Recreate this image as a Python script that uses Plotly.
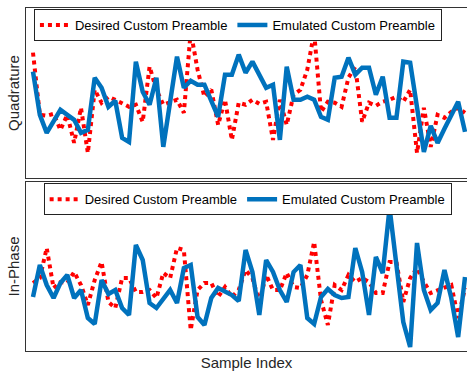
import plotly.graph_objects as go
from plotly.subplots import make_subplots

sample_index = list(range(1, 65))

quad_desired = [0.40, -0.22, -0.23, -0.21, -0.37, -0.22, -0.50, -0.15, -0.60, 0.03,
                -0.10, -0.04, -0.07, -0.10, -0.14, -0.12, -0.29, 0.26, 0.03, -0.12,
                -0.10, -0.07, -0.20, 0.61, 0.23, -0.04, 0.03, -0.32, -0.07, -0.47,
                -0.10, -0.12, -0.07, -0.11, -0.09, -0.47, -0.07, -0.32, -0.02, 0.03,
                0.23, 0.60, -0.19, -0.09, -0.10, -0.14, 0.15, 0.26, -0.29, -0.10,
                -0.13, -0.09, -0.07, -0.04, -0.09, 0.03, -0.60, -0.15, -0.54, -0.22,
                -0.25, -0.19, -0.15, -0.20]
quad_emulated = [0.21, -0.22, -0.40, -0.29, -0.17, -0.22, -0.27, -0.40, -0.37, 0.15,
                 0.05, -0.14, -0.08, -0.45, -0.49, 0.31, 0.01, -0.12, 0.15, -0.54,
                 -0.08, 0.36, 0.05, 0.12, 0.08, 0.08, -0.08, -0.24, 0.18, 0.18,
                 0.38, 0.20, 0.31, 0.18, 0.05, 0.08, -0.47, 0.26, -0.07, -0.07,
                 -0.04, -0.07, -0.24, -0.27, 0.15, 0.16, 0.35, 0.18, 0.25, 0.25,
                 -0.02, 0.16, -0.25, -0.25, 0.31, 0.30, -0.17, -0.59, -0.33, -0.50,
                 -0.36, -0.22, -0.09, -0.39]
inph_desired = [-0.17, -0.12, 0.18, -0.22, -0.16, -0.17, -0.06, -0.19, -0.39, -0.14,
                0.04, -0.36, -0.42, -0.12, -0.12, -0.26, -0.26, -0.24, -0.32, -0.07,
                -0.12, 0.18, 0.16, -0.64, -0.24, -0.17, -0.17, -0.31, -0.21, -0.31,
                -0.24, -0.04, -0.12, -0.36, -0.09, -0.24, -0.24, -0.07, -0.21, -0.22,
                -0.09, 0.24, -0.34, -0.59, -0.19, -0.24, -0.09, -0.16, -0.12, -0.16,
                -0.27, -0.27, 0.04, 0.04, -0.36, -0.12, -0.02, -0.16, -0.27, -0.24,
                -0.21, -0.19, -0.52, -0.22]
inph_emulated = [-0.31, 0.01, -0.19, -0.32, -0.17, -0.09, -0.32, -0.24, -0.52, -0.58,
                 -0.14, -0.28, -0.24, -0.42, -0.49, 0.21, 0.06, -0.37, -0.42, -0.32,
                 -0.24, -0.37, -0.02, 0.01, -0.51, -0.59, -0.32, -0.22, -0.26, -0.29,
                 -0.35, 0.16, -0.06, -0.49, 0.06, -0.06, -0.24, -0.36, -0.06, 0.01,
                 -0.52, -0.58, -0.31, -0.23, -0.29, -0.32, -0.31, 0.18, -0.06, -0.49,
                 0.09, -0.07, 0.58, 0.01, -0.56, -0.81, 0.23, -0.24, -0.44, -0.37,
                 -0.04, -0.32, -0.71, -0.11]

names = ["Desired Custom Preamble", "Emulated Custom Preamble"]
RED = "#ff0000"
BLUE = "#0072bd"
TXT = "#262626"
FONT = "Liberation Sans, Arial, sans-serif"

fig = make_subplots(rows=2, cols=1, vertical_spacing=0.0)

for row, (des, emu, lg) in enumerate([(quad_desired, quad_emulated, "legend"),
                                      (inph_desired, inph_emulated, "legend2")], start=1):
    fig.add_trace(go.Scatter(x=sample_index, y=des, mode="lines", name=names[0],
                             line=dict(color=RED, width=4, dash="4px,4px"),
                             legend=lg), row=row, col=1)
    fig.add_trace(go.Scatter(x=sample_index, y=emu, mode="lines", name=names[1],
                             line=dict(color=BLUE, width=4.5),
                             legend=lg), row=row, col=1)

axis_common = dict(showgrid=False, zeroline=False, ticks="", showticklabels=False,
                   showline=True, linecolor="#333", linewidth=1, automargin=False)
xr = [-0.02, 64.29]
fig.update_xaxes(range=xr, mirror=True, **axis_common)
fig.update_yaxes(mirror=False, **axis_common)

legend_common = dict(orientation="h", xanchor="left", yanchor="top",
                     bgcolor="white", bordercolor="#222", borderwidth=1,
                     font=dict(size=13, family=FONT, color="#000"),
                     itemwidth=30, tracegroupgap=0, itemclick=False)

fig.update_layout(
    width=467, height=372,
    margin=dict(l=26, r=0, t=8, b=21, autoexpand=False),
    paper_bgcolor="white", plot_bgcolor="white",
    font=dict(family=FONT, size=15, color=TXT),
    xaxis=dict(domain=[0, 1]),
    yaxis=dict(domain=[0.5044, 1.0], range=[-0.85, 0.845],
               title=dict(text="Quadrature", standoff=1, font=dict(size=15, color=TXT))),
    xaxis2=dict(domain=[0, 1],
                title=dict(text="Sample Index", standoff=6, font=dict(size=15, color=TXT))),
    yaxis2=dict(domain=[0.0, 0.4927], range=[-0.85, 0.84],
                title=dict(text="In-Phase", standoff=1, font=dict(size=15, color=TXT))),
    legend=dict(x=0.018, y=0.997, **legend_common),
    legend2=dict(x=0.04, y=0.489, **legend_common),
    showlegend=True,
)

fig.write_html("out.html",
               config={"displayModeBar": False},
               post_script="document.body.style.margin='0';document.body.style.overflow='hidden';")
